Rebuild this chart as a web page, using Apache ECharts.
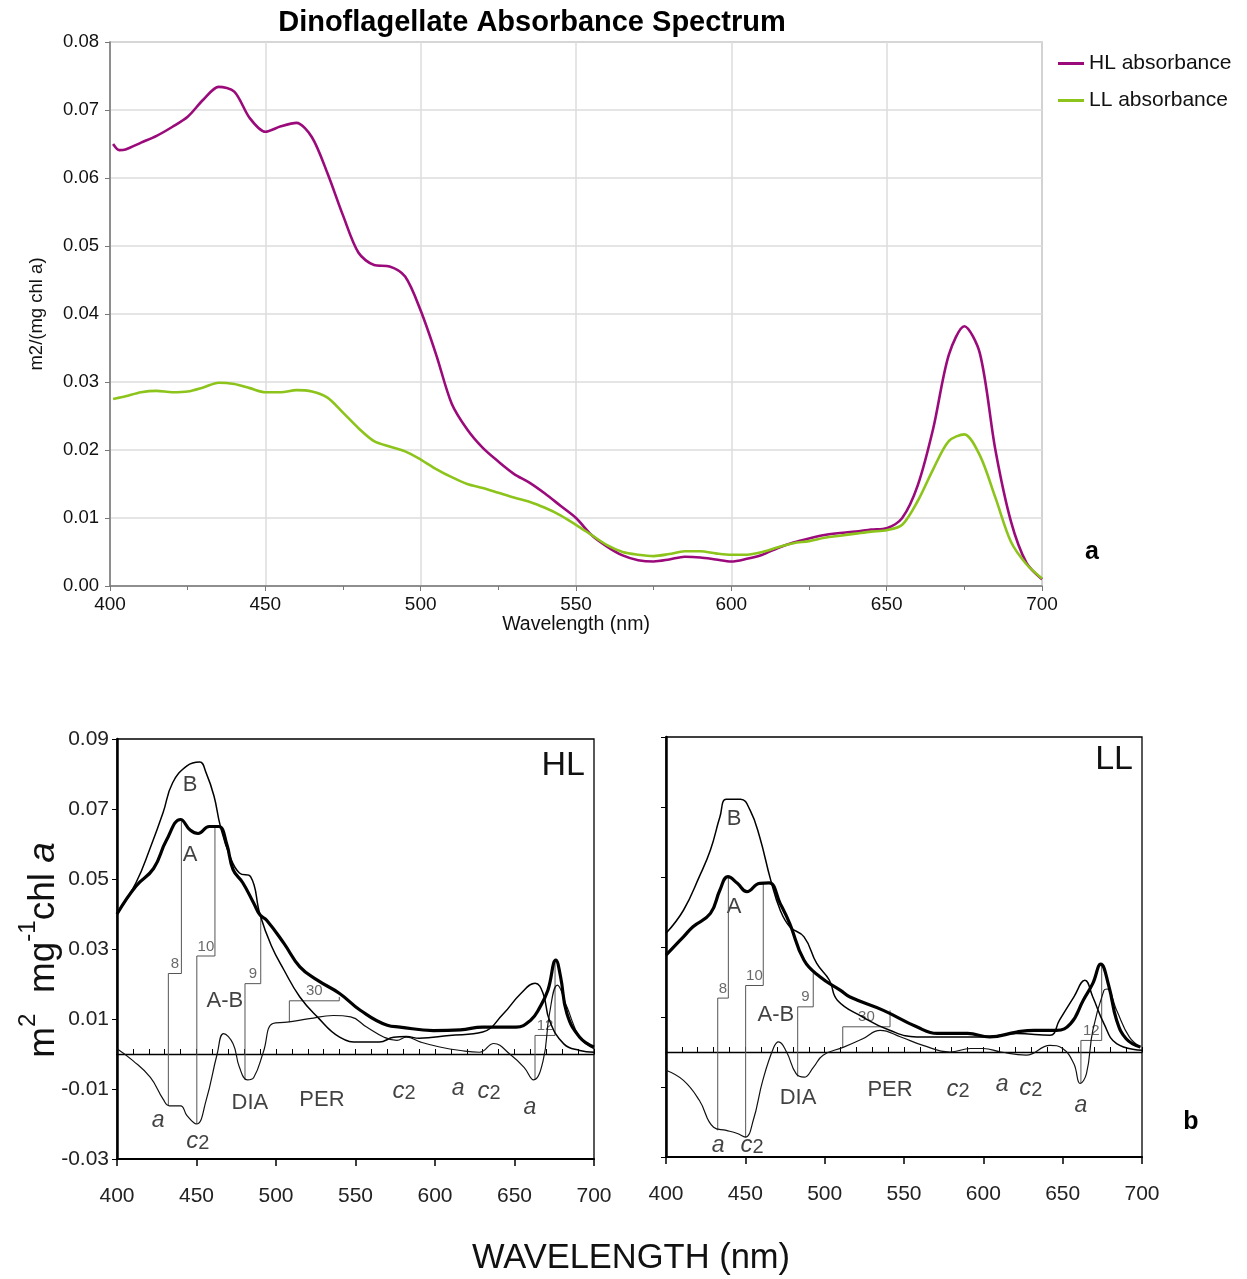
<!DOCTYPE html>
<html>
<head>
<meta charset="utf-8">
<title>Dinoflagellate Absorbance Spectrum</title>
<script src="https://cdn.jsdelivr.net/npm/echarts@6.0.0/dist/echarts.min.js"></script>
<style>
  html, body { margin: 0; padding: 0; background: #fff; }
  #chart { width: 1247px; height: 1279px; }
</style>
</head>
<body>
<div id="chart"></div>
<script>
// ---- panel a: measured absorbance (m2 / mg chl a) ----
const topNm = [401, 403, 405, 410, 415, 420, 425, 430, 435, 440, 445, 450, 455, 460, 465, 470, 475, 480, 485, 490,
  495, 500, 505, 510, 515, 520, 525, 530, 535, 540, 545, 550, 555, 560, 565, 570, 575, 580, 585, 590,
  595, 600, 605, 610, 615, 620, 625, 630, 635, 640, 645, 650, 655, 660, 665, 670, 675, 680, 685, 690, 695, 700];
const hlAbsorbance = [0.0650, 0.0641, 0.0642, 0.0652, 0.0662, 0.0675, 0.0690, 0.0715, 0.0734, 0.0727, 0.0688, 0.0668, 0.0676, 0.0681, 0.0660, 0.0607, 0.0545, 0.0490, 0.0472, 0.0470,
  0.0455, 0.0405, 0.0340, 0.0268, 0.0230, 0.0203, 0.0183, 0.0165, 0.0152, 0.0136, 0.0118, 0.0100, 0.0075, 0.0058, 0.0045, 0.0038, 0.0036, 0.0039, 0.0043, 0.0042,
  0.0039, 0.0036, 0.0040, 0.0046, 0.0056, 0.0064, 0.0070, 0.0075, 0.0078, 0.0080, 0.0083, 0.0085, 0.0100, 0.0148, 0.0232, 0.0340, 0.0382, 0.0342, 0.0200, 0.0095, 0.0034, 0.0010];
const llAbsorbance = [0.0275, 0.0277, 0.0279, 0.0285, 0.0287, 0.0285, 0.0286, 0.0292, 0.0299, 0.0297, 0.0291, 0.0285, 0.0285, 0.0288, 0.0286, 0.0277, 0.0255, 0.0232, 0.0213, 0.0205,
  0.0198, 0.0186, 0.0172, 0.0160, 0.0150, 0.0144, 0.0137, 0.0130, 0.0124, 0.0115, 0.0104, 0.0090, 0.0075, 0.0060, 0.0050, 0.0046, 0.0044, 0.0047, 0.0051, 0.0051,
  0.0048, 0.0046, 0.0046, 0.0050, 0.0057, 0.0063, 0.0066, 0.0071, 0.0074, 0.0077, 0.0080, 0.0082, 0.0090, 0.0125, 0.0172, 0.0213, 0.0223, 0.0192, 0.0130, 0.0065, 0.0032, 0.0011];

// ---- panel b, HL: A (measured), B (reconstructed), A-B (difference) ----
const hlANm  = [400, 412, 423, 431, 440, 446, 451, 458, 464, 469, 473, 479, 486, 490, 494, 505, 515, 526, 540, 553, 570, 578, 599, 616, 630, 651, 660, 666, 671, 676, 679, 683, 691, 700];
const hlAVal = [0.040, 0.048, 0.053, 0.061, 0.067, 0.064, 0.063, 0.065, 0.065, 0.060, 0.0527, 0.049, 0.0431, 0.0397, 0.0383, 0.0316, 0.0249, 0.0211, 0.0173, 0.0125, 0.0082, 0.0077, 0.0067, 0.0069, 0.0077, 0.0077, 0.0096, 0.0134, 0.0182, 0.0268, 0.022, 0.0115, 0.0048, 0.002];
const hlBNm  = [400, 412, 421, 429, 435, 444, 452, 456, 461, 465, 471, 477, 484, 490, 497, 505, 515, 526, 540, 553, 565, 574, 582, 590, 609, 630, 643, 654, 663, 668, 672, 681, 691, 700];
const hlBVal = [0.040, 0.049, 0.059, 0.069, 0.0775, 0.0823, 0.0834, 0.0804, 0.0737, 0.0651, 0.0565, 0.0517, 0.0507, 0.0397, 0.031, 0.024, 0.0163, 0.0106, 0.0048, 0.0034, 0.0034, 0.0048, 0.005, 0.0045, 0.0053, 0.0063, 0.0115, 0.0173, 0.0202, 0.0173, 0.0096, 0.0029, 0.001, 0.0005];
const hlDiffNm  = [400, 410, 421, 429, 433, 440, 444, 450, 456, 463, 467, 473, 477, 482, 486, 492, 498, 507, 521, 536, 547, 557, 568, 576, 582, 591, 603, 616, 628, 637, 647, 656, 662, 668, 672, 677, 683, 691, 700];
const hlDiffVal = [0.0015, -0.0019, -0.0067, -0.0129, -0.0148, -0.0148, -0.0176, -0.0200, -0.0133, 0.0, 0.0058, 0.0029, -0.0038, -0.0074, -0.0067, 0.0005, 0.0087, 0.0091, 0.0101, 0.011, 0.0106, 0.0077, 0.0048, 0.0039, 0.0048, 0.0034, 0.002, 0.001, 0.0005, 0.003, 0.0, -0.0038, -0.0074, -0.0019, 0.0115, 0.0197, 0.0134, 0.0048, 0.0015];

// ---- panel b, LL ----
const llANm  = [400, 411, 417, 428, 434, 439, 445, 451, 459, 465, 472, 478, 487, 497, 510, 516, 537, 558, 571, 590, 604, 621, 632, 646, 655, 663, 669, 674, 679, 684, 690, 699];
const llAVal = [0.0277, 0.0329, 0.0358, 0.0396, 0.0463, 0.0501, 0.0482, 0.0458, 0.0482, 0.0483, 0.0424, 0.0367, 0.0262, 0.0215, 0.0176, 0.0157, 0.0119, 0.0072, 0.0053, 0.0053, 0.0043, 0.0057, 0.0062, 0.0062, 0.0081, 0.0148, 0.0196, 0.0251, 0.019, 0.0091, 0.0038, 0.0014];
const llBNm  = [400, 411, 421, 428, 434, 438, 447, 453, 459, 466, 472, 478, 487, 495, 503, 508, 524, 541, 558, 579, 600, 621, 642, 648, 657, 664, 669, 676, 684, 700];
const llBVal = [0.0339, 0.0405, 0.0501, 0.0577, 0.0672, 0.0722, 0.0722, 0.0691, 0.0615, 0.0491, 0.0405, 0.0358, 0.0329, 0.0253, 0.0205, 0.0148, 0.010, 0.0062, 0.0043, 0.0043, 0.0043, 0.0053, 0.0048, 0.0091, 0.0157, 0.0205, 0.0157, 0.0081, 0.0024, 0.0005];
const llDiffNm  = [400, 411, 421, 430, 438, 445, 450, 455, 461, 468, 471, 476, 482, 487, 493, 499, 512, 524, 535, 548, 562, 579, 592, 600, 611, 627, 642, 650, 657, 661, 665, 669, 676, 678, 684, 692, 699];
const llDiffVal = [-0.0052, -0.0081, -0.0138, -0.0215, -0.0224, -0.0233, -0.0243, -0.0195, -0.0081, 0.0014, 0.0029, 0.0, -0.0062, -0.0072, -0.0043, -0.0009, 0.0014, 0.0038, 0.0062, 0.0043, 0.0019, 0.0, 0.001, 0.001, 0.0, -0.0009, 0.0019, 0.001, -0.0033, -0.009, -0.0062, 0.0062, 0.0176, 0.018, 0.0119, 0.0043, 0.0014];

// band-shift brackets: [label, nm from, low, step level, nm to, high]
const hlSteps = [
  ['8', 432.3, -0.0148, 0.023, 440.5, 0.0665],
  ['10', 450.2, -0.0200, 0.028, 461.6, 0.065],
  ['9', 480.5, -0.0074, 0.0201, 490.4, 0.0397],
  ['30', 508.4, 0.0091, 0.0152, 539.8, 0.0163],
  ['12', 662.9, -0.0074, 0.0053, 675.5, 0.0268]
];
const llSteps = [
  ['8', 432.6, -0.0224, 0.0154, 439.3, 0.050],
  ['10', 450.2, -0.0243, 0.019, 461.3, 0.048],
  ['9', 483.0, -0.0070, 0.0129, 492.8, 0.023],
  ['30', 511.4, 0.0014, 0.0072, 541.2, 0.0119],
  ['12', 661.5, -0.0090, 0.0033, 674.6, 0.025]
];

// pigment / curve annotations: [text, nm, value]
const hlNotes = [
  ['B', 445.9, 0.0768], ['A', 445.9, 0.0570], ['A-B', 467.9, 0.0151], ['DIA', 483.6, -0.0139],
  ['PER', 528.9, -0.0131], ['a', 425.8, -0.0191], ['c2', 450.9, -0.0250], ['c2', 580.5, -0.0108],
  ['a', 614.5, -0.0099], ['c2', 634, -0.0108], ['a', 659.7, -0.0154]
];
const llNotes = [
  ['B', 442.9, 0.0666], ['A', 442.9, 0.0414], ['A-B', 469.3, 0.0105], ['DIA', 483.2, -0.0130],
  ['PER', 541.2, -0.0107], ['a', 432.8, -0.0267], ['c2', 454.2, -0.0267], ['c2', 584, -0.0107],
  ['a', 611.8, -0.0092], ['c2', 630, -0.0104], ['a', 661.5, -0.0153]
];

const FONT = "'Liberation Sans', Arial, sans-serif";
const HL_COLOR = '#9b0a7b';
const LL_COLOR = '#8cc41b';

const pairs = (xs, ys) => xs.map((x, i) => [x, ys[i]]);

const noteRich = {
  n: { fontSize: 22, color: '#111', fontFamily: FONT },
  i: { fontSize: 23, color: '#111', fontStyle: 'italic', fontFamily: FONT },
  c: { fontSize: 24, color: '#111', fontStyle: 'italic', fontFamily: FONT, lineHeight: 24, verticalAlign: 'top' },
  s: { fontSize: 20, color: '#111', fontFamily: FONT, lineHeight: 20, padding: [12, 0, 0, 0], verticalAlign: 'bottom' }
};
function noteText(t) {
  if (t === 'c2') return '{c|c}{s|2}';
  if (t === 'a') return '{i|a}';
  return '{n|' + t + '}';
}

// build the series of one lower panel
function panelSeries(xi, yi, aNm, aVal, bNm, bVal, dNm, dVal, steps, notes) {
  const common = { type: 'line', xAxisIndex: xi, yAxisIndex: yi, symbol: 'none', silent: true, animation: false };
  const list = [
    { ...common, data: pairs(aNm, aVal), smooth: 0.45, lineStyle: { color: '#000', width: 3.2 }, z: 5 },
    { ...common, data: pairs(bNm, bVal), smooth: 0.45, lineStyle: { color: '#000', width: 1.5 }, z: 4 },
    { ...common, data: pairs(dNm, dVal), smooth: 0.45, lineStyle: { color: '#111', width: 1.2 }, z: 4 }
  ];
  steps.forEach(s => {
    list.push({ ...common, data: [[s[1], s[2]], [s[1], s[3]], [s[4], s[3]], [s[4], s[5]]],
      lineStyle: { color: '#555', width: 1 }, z: 3 });
  });
  list.push({
    type: 'scatter', xAxisIndex: xi, yAxisIndex: yi, symbolSize: 0, silent: true, animation: false,
    data: steps.map(s => [(s[1] + s[4]) / 2, s[3], s[0]]),
    label: { show: true, position: 'top', distance: 2, formatter: p => p.data[2], fontSize: 15, color: '#444', fontFamily: FONT }
  });
  list.push({
    type: 'scatter', xAxisIndex: xi, yAxisIndex: yi, symbolSize: 0, silent: true, animation: false,
    data: notes.map(n => [n[1], n[2], n[0]]),
    label: { show: true, position: 'inside', formatter: p => noteText(p.data[2]), rich: noteRich }
  });
  return list;
}

function lowerX(gridIndex) {
  return [
    { gridIndex, type: 'value', min: 400, max: 700, interval: 50,
      axisLine: { onZero: false, lineStyle: { color: '#000', width: 2 } },
      axisTick: { length: 7, lineStyle: { color: '#000', width: 1.5 } },
      axisLabel: { margin: 27, fontSize: 21, color: '#222', fontFamily: FONT },
      splitLine: { show: false } },
    { gridIndex, type: 'value', min: 400, max: 700, interval: 10, position: 'bottom',
      axisLine: { onZero: true, lineStyle: { color: '#000', width: 1.3 } },
      axisTick: { inside: true, length: 5, lineStyle: { color: '#000', width: 1 } },
      axisLabel: { show: false }, splitLine: { show: false } }
  ];
}
function lowerY(gridIndex, showLabels) {
  return { gridIndex, type: 'value', min: -0.03, max: 0.09, interval: 0.02,
    axisLine: { show: true, lineStyle: { color: '#000', width: 2.5 } },
    axisTick: { length: 5, lineStyle: { color: '#000' } },
    axisLabel: { show: showLabels, margin: 8, fontSize: 21, color: '#222', fontFamily: FONT, formatter: v => v.toFixed(2) },
    splitLine: { show: false } };
}

const chart = echarts.init(document.getElementById('chart'));
chart.setOption({
  backgroundColor: '#fff',
  animation: false,
  textStyle: { fontFamily: FONT },
  legend: {
    orient: 'vertical', left: 1053, top: 48, itemWidth: 26, itemHeight: 3, itemGap: 16, icon: 'rect',
    textStyle: { fontSize: 21, color: '#111', fontFamily: FONT },
    data: ['HL absorbance', 'LL absorbance']
  },
  grid: [
    { left: 110, right: 205, top: 42, bottom: 693, show: true, borderColor: '#8a8a8a', borderWidth: 1.2 },
    { left: 117, right: 653, top: 739, bottom: 120, show: true, borderColor: '#000', borderWidth: 1.3 },
    { left: 666, right: 105, top: 737, bottom: 122, show: true, borderColor: '#000', borderWidth: 1.3 }
  ],
  xAxis: [
    { gridIndex: 0, type: 'value', min: 400, max: 700, interval: 50,
      name: 'Wavelength (nm)', nameLocation: 'middle', nameGap: 29,
      nameTextStyle: { fontSize: 19.5, color: '#111', fontFamily: FONT },
      axisLine: { onZero: false, lineStyle: { color: '#777', width: 1.5 } },
      axisTick: { length: 5, lineStyle: { color: '#777' } },
      minorTick: { show: true, splitNumber: 2, length: 4, lineStyle: { color: '#777' } },
      axisLabel: { margin: 9, fontSize: 19, color: '#111', fontFamily: FONT },
      splitLine: { show: true, lineStyle: { color: '#dcdcdc', width: 1.5 } } },
    ...lowerX(1),
    ...lowerX(2)
  ],
  yAxis: [
    { gridIndex: 0, type: 'value', min: 0, max: 0.08, interval: 0.01,
      name: 'm2/(mg chl a)', nameLocation: 'middle', nameGap: 64,
      nameTextStyle: { fontSize: 18.5, color: '#111', fontFamily: FONT },
      axisLine: { show: true, lineStyle: { color: '#777', width: 1.5 } },
      axisTick: { show: true, length: 5, lineStyle: { color: '#777' } },
      axisLabel: { margin: 11, fontSize: 18.5, color: '#111', fontFamily: FONT, formatter: v => v.toFixed(2) },
      splitLine: { show: true, lineStyle: { color: '#dcdcdc', width: 1.5 } } },
    lowerY(1, true),
    lowerY(2, false)
  ],
  series: [
    { name: 'HL absorbance', type: 'line', xAxisIndex: 0, yAxisIndex: 0, symbol: 'none', smooth: 0.3,
      data: pairs(topNm, hlAbsorbance), lineStyle: { color: HL_COLOR, width: 2.6 }, itemStyle: { color: HL_COLOR } },
    { name: 'LL absorbance', type: 'line', xAxisIndex: 0, yAxisIndex: 0, symbol: 'none', smooth: 0.3,
      data: pairs(topNm, llAbsorbance), lineStyle: { color: LL_COLOR, width: 2.6 }, itemStyle: { color: LL_COLOR } },
    ...panelSeries(1, 1, hlANm, hlAVal, hlBNm, hlBVal, hlDiffNm, hlDiffVal, hlSteps, hlNotes),
    ...panelSeries(3, 2, llANm, llAVal, llBNm, llBVal, llDiffNm, llDiffVal, llSteps, llNotes)
  ],
  graphic: [
    { type: 'text', x: 532, y: 23, style: { text: 'Dinoflagellate Absorbance Spectrum', fontSize: 29, fontWeight: 'bold',
      fontFamily: FONT, fill: '#000', align: 'center', verticalAlign: 'middle' } },
    { type: 'text', x: 1092, y: 552, style: { text: 'a', fontSize: 25, fontWeight: 'bold', fontFamily: FONT, fill: '#000',
      align: 'center', verticalAlign: 'middle' } },
    { type: 'text', x: 1191, y: 1122, style: { text: 'b', fontSize: 25, fontWeight: 'bold', fontFamily: FONT, fill: '#000',
      align: 'center', verticalAlign: 'middle' } },
    { type: 'text', x: 585, y: 766, style: { text: 'HL', fontSize: 34, fontFamily: FONT, fill: '#111',
      align: 'right', verticalAlign: 'middle' } },
    { type: 'text', x: 1133, y: 760, style: { text: 'LL', fontSize: 34, fontFamily: FONT, fill: '#111',
      align: 'right', verticalAlign: 'middle' } },
    { type: 'text', x: 631, y: 1258, style: { text: 'WAVELENGTH (nm)', fontSize: 34.5, fontFamily: FONT, fill: '#111',
      align: 'center', verticalAlign: 'middle' } },
    { type: 'text', x: 39, y: 950, rotation: Math.PI / 2, style: {
      text: '{n|m}{p|2}{n|  mg}{p|-1}{n|chl }{i|a}', align: 'center', verticalAlign: 'middle',
      rich: {
        n: { fontSize: 37, fontFamily: FONT, fill: '#111', lineHeight: 46, verticalAlign: 'bottom' },
        p: { fontSize: 24, fontFamily: FONT, fill: '#111', lineHeight: 24, verticalAlign: 'top' },
        i: { fontSize: 37, fontFamily: FONT, fill: '#111', fontStyle: 'italic', lineHeight: 46, verticalAlign: 'bottom' }
      } } }
  ]
});
</script>
</body>
</html>
